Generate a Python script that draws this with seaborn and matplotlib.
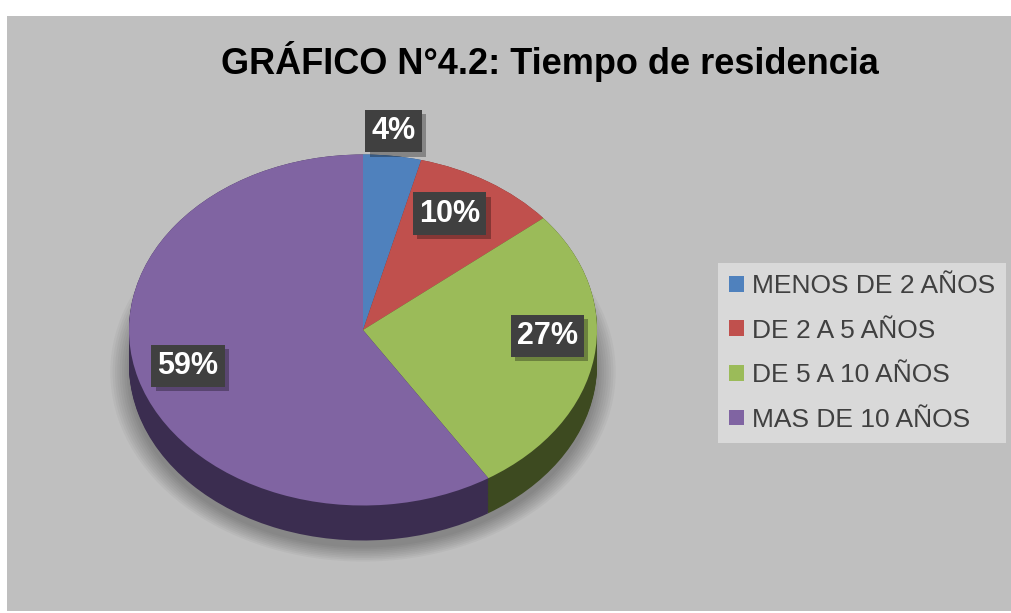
import numpy as np
import matplotlib
matplotlib.use("Agg")
import matplotlib.pyplot as plt
import seaborn as sns
from matplotlib import patheffects as pe
from matplotlib.patches import Rectangle

categories = ["MENOS DE 2 AÑOS", "DE 2 A 5 AÑOS", "DE 5 A 10 AÑOS", "MAS DE 10 AÑOS"]
values = [4, 10, 27, 59]
top_colors = ["#4f81bd", "#c0504d", "#9bbb59", "#8064a2"]
side_colors = ["#2f4d71", "#73302e", "#3d4a20", "#3b2d50"]
# label placement: radial distance and angle shift (degrees) from wedge middle
label_dist = [1.14, 0.76, 0.79, 0.775]
label_shift = [-0.6, -3.2, -6.5, 0.9]
title = "GRÁFICO N°4.2: Tiempo de residencia"

sns.set_theme(style="white")
plt.rcParams["font.family"] = ["Liberation Sans", "DejaVu Sans"]

W, H = 1012, 613
fig = plt.figure(figsize=(W / 100, H / 100), dpi=100)
fig.patch.set_facecolor("white")
fig.add_artist(Rectangle((7 / W, 2 / H), 1 - 7 / W, 1 - 18 / H, transform=fig.transFigure,
                         facecolor="#bfbfbf", edgecolor="none", zorder=0))

# pie geometry in pixels (squashed ellipse to fake the 3d tilt)
cx, cy = 363, H - 330
rx, ry = 234, 175.5
depth = 35 / ry

ax = fig.add_axes([0, 0, 1, 1])
ax.set_facecolor("none")

# soft shadow under the pie
for r in np.linspace(1.08, 1.0, 9):
    ax.pie([1], colors=["#000000"], radius=r, center=(0, -depth - 0.04),
           wedgeprops=dict(alpha=0.035, linewidth=0))

# side of the disc
for d in np.linspace(depth, 0, 30):
    ax.pie(values, colors=side_colors, startangle=90, counterclock=False,
           center=(0, -d), wedgeprops=dict(linewidth=0))

# top face
wedges, texts, autotexts = ax.pie(values, colors=top_colors, startangle=90, counterclock=False,
                                  autopct=lambda p: f"{p:.0f}%", pctdistance=0.77,
                                  wedgeprops=dict(linewidth=0))

ax.set_aspect("auto")
ax.set_xlim(-cx / rx, (W - cx) / rx)
ax.set_ylim(-cy / ry, (H - cy) / ry)
ax.axis("off")

# place the data labels
cum = np.cumsum([0] + values[:-1])
for t, start, v, dist, sh in zip(autotexts, cum, values, label_dist, label_shift):
    ang = np.deg2rad(90 - ((start + v / 2) / sum(values) * 360 + sh))
    t.set_position((dist * np.cos(ang), dist * np.sin(ang)))
    t.set_color("white")
    t.set_fontsize(22)
    t.set_fontweight("bold")
    t.set_bbox(dict(boxstyle="square,pad=0.2", facecolor="#404040", edgecolor="none"))
    t.get_bbox_patch().set_path_effects([
        pe.SimplePatchShadow(offset=(3, -3), shadow_rgbFace="black", alpha=0.3), pe.Normal()])

fig.text(550 / W, 1 - 62 / H, title, ha="center", va="center",
         fontsize=26, fontweight="bold", color="black")

leg = fig.legend(wedges, categories, loc="upper left", bbox_to_anchor=(718 / W, 1 - 263 / H),
                 frameon=True, fancybox=False, facecolor="#d9d9d9", edgecolor="none",
                 framealpha=1, fontsize=19, labelcolor="#404040",
                 handlelength=0.55, handleheight=0.55, handletextpad=0.3,
                 labelspacing=0.78, borderpad=0.42, borderaxespad=0)

fig.savefig("out.png", dpi=100, facecolor="white")
